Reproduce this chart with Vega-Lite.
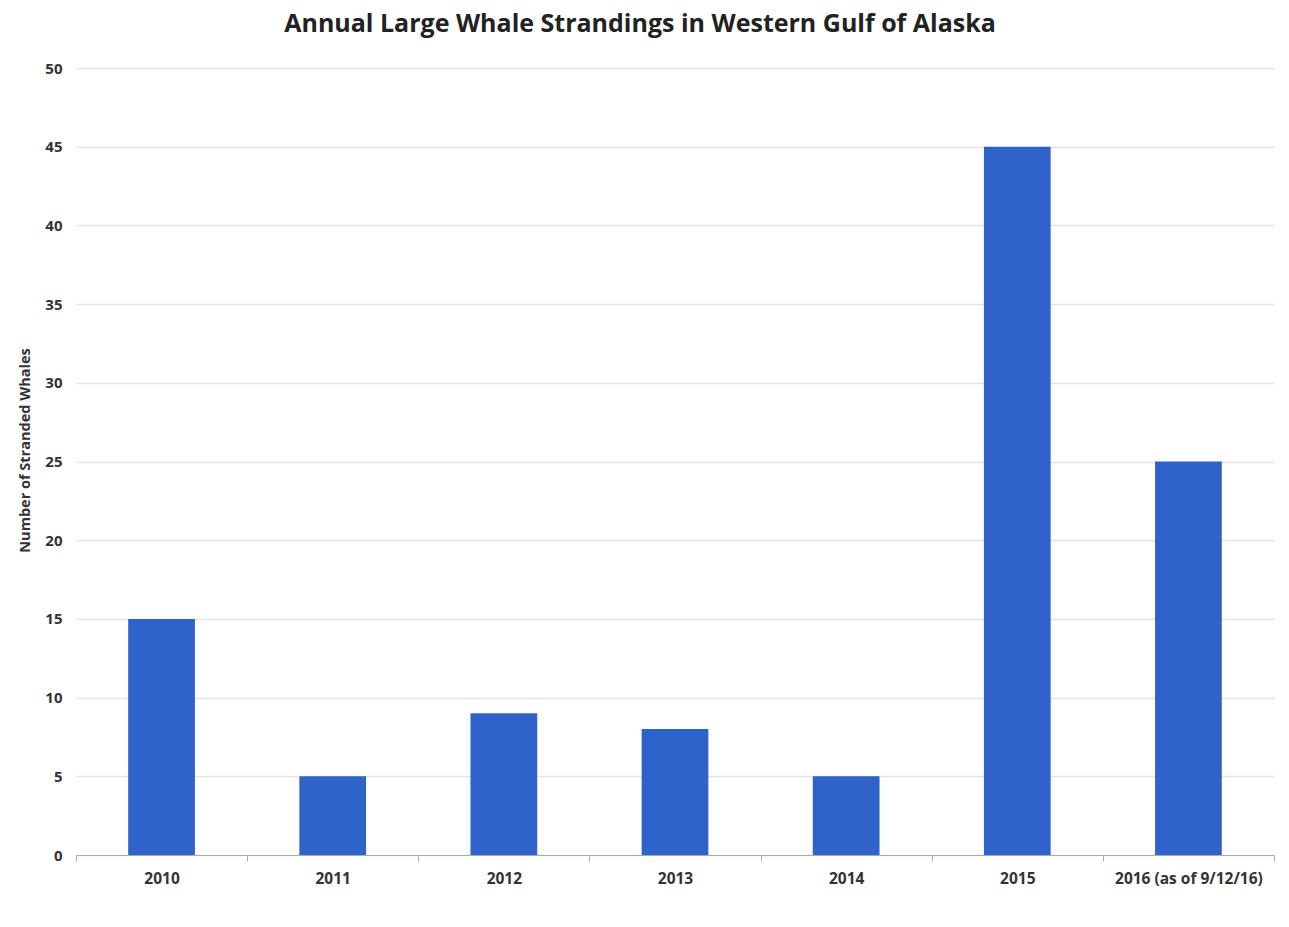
{
  "$schema": "https://vega.github.io/schema/vega-lite/v6.json",
  "width": 1198,
  "height": 787,
  "autosize": "none",
  "padding": {"left": 76, "top": 68, "right": 15, "bottom": 72},
  "background": "white",
  "title": {
    "text": "Annual Large Whale Strandings in Western Gulf of Alaska",
    "font": "Open Sans",
    "fontSize": 25,
    "fontWeight": "bold",
    "color": "#222222",
    "anchor": "middle",
    "dx": -35,
    "offset": 24
  },
  "data": {
    "values": [
      {"year": "2010", "whales": 15},
      {"year": "2011", "whales": 5},
      {"year": "2012", "whales": 9},
      {"year": "2013", "whales": 8},
      {"year": "2014", "whales": 5},
      {"year": "2015", "whales": 45},
      {"year": "2016 (as of 9/12/16)", "whales": 25}
    ]
  },
  "mark": {"type": "bar", "color": "#3063c9", "width": {"band": 0.39}},
  "encoding": {
    "x": {
      "field": "year",
      "type": "nominal",
      "sort": null,
      "scale": {"paddingInner": 0, "paddingOuter": 0},
      "axis": {
        "title": null,
        "labelAngle": 0,
        "labelFont": "Open Sans",
        "labelFontSize": 15.5,
        "labelFontWeight": "bold",
        "labelColor": "#333333",
        "labelPadding": 10,
        "tickBand": "extent",
        "tickColor": "#aaaaaa",
        "tickSize": 6,
        "domainColor": "#aaaaaa",
        "grid": false
      }
    },
    "y": {
      "field": "whales",
      "type": "quantitative",
      "scale": {"domain": [0, 50]},
      "axis": {
        "title": "Number of Stranded Whales",
        "titleFont": "Open Sans",
        "titleFontSize": 14.5,
        "titleFontWeight": "bold",
        "titleColor": "#333333",
        "titlePadding": 12,
        "titleY": 382,
        "values": [0, 5, 10, 15, 20, 25, 30, 35, 40, 45, 50],
        "labelFont": "Open Sans",
        "labelFontSize": 15,
        "labelFontWeight": "bold",
        "labelColor": "#333333",
        "labelPadding": 14,
        "ticks": false,
        "domain": false,
        "gridColor": "#e3e3e3",
        "gridWidth": 1.5
      }
    }
  },
  "config": {"view": {"stroke": null}}
}
